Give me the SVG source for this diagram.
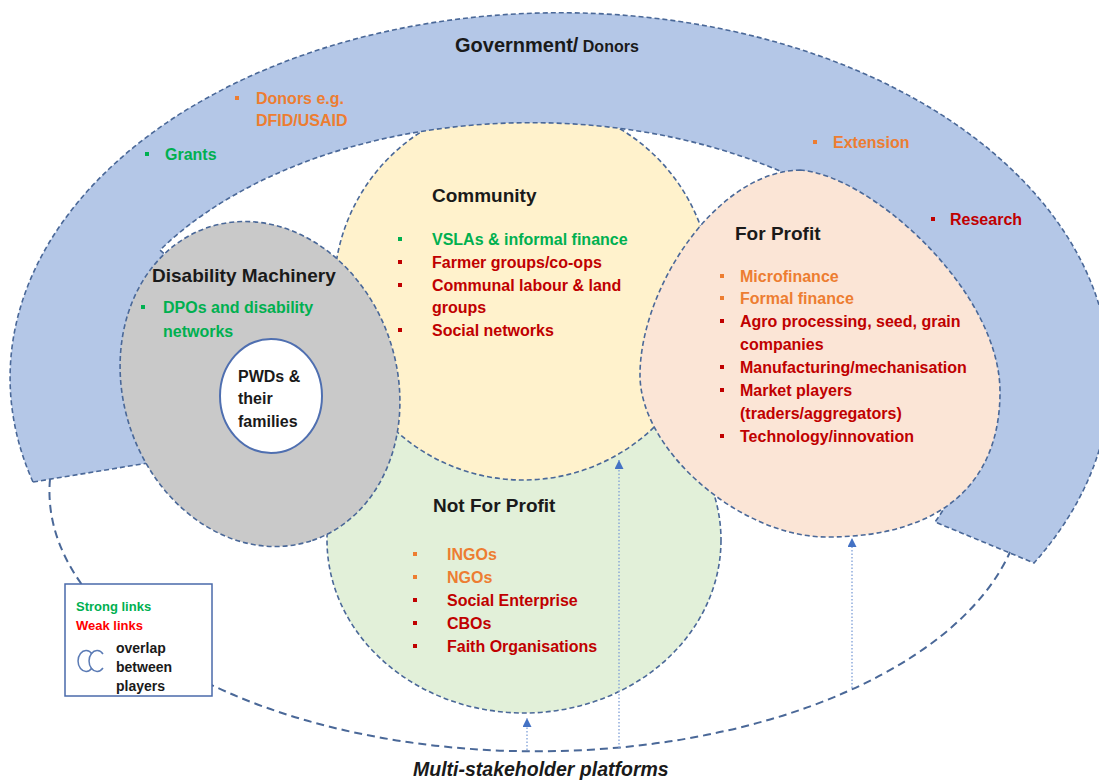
<svg xmlns="http://www.w3.org/2000/svg" width="1099" height="784" viewBox="0 0 1099 784">
<defs>
<style>
.o{stroke:#4a6898;stroke-width:1.6;stroke-dasharray:5 3}
text{font-family:"Liberation Sans",Arial,sans-serif;font-weight:bold}
.t{font-size:19px;fill:#1a1a1a}
.i{font-size:16px}
.g{fill:#00B050}.r{fill:#C00000}.y{fill:#ED7D31}.k{fill:#1a1a1a}
.dot{stroke:#7f9fd8;stroke-width:1.3;stroke-dasharray:1.5 2;fill:none}
</style>
<marker id="ah" markerWidth="9" markerHeight="9" refX="9" refY="4.5" orient="auto" markerUnits="userSpaceOnUse">
<path d="M0,0 L9,4.5 L0,9 Z" fill="#4472C4"/>
</marker>
</defs>
<rect width="1099" height="784" fill="#ffffff"/>

<g id="not-for-profit">
<ellipse cx="524" cy="540" rx="197" ry="173" fill="#E2F0D9" class="o"/>
<text class="t" x="433" y="512">Not For Profit</text>
<rect class="y" x="413" y="552" width="4" height="4"/>
<rect class="y" x="413" y="575" width="4" height="4"/>
<rect class="r" x="413" y="598" width="4" height="4"/>
<rect class="r" x="413" y="621" width="4" height="4"/>
<rect class="r" x="413" y="644" width="4" height="4"/>
<text class="i y" x="447" y="560">INGOs</text>
<text class="i y" x="447" y="583">NGOs</text>
<text class="i r" x="447" y="606">Social Enterprise</text>
<text class="i r" x="447" y="629">CBOs</text>
<text class="i r" x="447" y="652">Faith Organisations</text>
</g>

<g id="community">
<circle cx="523" cy="291" r="189" fill="#FFF2CC" class="o"/>
<text class="t" x="432" y="202">Community</text>
<rect class="g" x="398" y="237" width="4" height="4"/>
<rect class="r" x="398" y="260" width="4" height="4"/>
<rect class="r" x="398" y="283" width="4" height="4"/>
<rect class="r" x="398" y="328" width="4" height="4"/>
<text class="i g" x="432" y="245">VSLAs &amp; informal finance</text>
<text class="i r" x="432" y="268">Farmer groups/co-ops</text>
<text class="i r" x="432" y="291">Communal labour &amp; land</text>
<text class="i r" x="432" y="313">groups</text>
<text class="i r" x="432" y="336">Social networks</text>
</g>

<g id="government-donors">
<path d="M33,482 A550,365 0 1 1 1034,563 L935,522 A444,282 0 0 0 160,250 L215,300 L160,461 Z" fill="#B4C7E7" class="o"/>
<text x="455" y="52" class="k"><tspan font-size="20">Government/</tspan><tspan font-size="16"> Donors</tspan></text>
<rect class="y" x="235" y="96" width="4" height="4"/>
<text class="i y" x="256" y="104">Donors e.g.</text>
<text class="i y" x="256" y="126">DFID/USAID</text>
<rect class="g" x="145" y="152" width="4" height="4"/>
<text class="i g" x="165" y="160">Grants</text>
<rect class="y" x="813" y="140" width="4" height="4"/>
<text class="i y" x="833" y="148">Extension</text>
<rect class="r" x="931" y="217" width="4" height="4"/>
<text class="i r" x="950" y="225">Research</text>
</g>

<g id="disability-machinery">
<ellipse cx="0" cy="0" rx="165" ry="137" transform="translate(260,384) rotate(72)" fill="#C9C9C9" class="o"/>
<text class="t" x="152" y="282">Disability Machinery</text>
<rect class="g" x="141" y="305" width="4" height="4"/>
<text class="i g" x="163" y="313">DPOs and disability</text>
<text class="i g" x="163" y="337">networks</text>
</g>

<g id="pwds">
<ellipse cx="271" cy="396" rx="51" ry="57" fill="#ffffff" stroke="#4f6fb0" stroke-width="2"/>
<text class="i k" x="238" y="382">PWDs &amp;</text>
<text class="i k" x="238" y="404">their</text>
<text class="i k" x="238" y="427">families</text>
</g>

<g id="for-profit">
<path d="M800,170 C870,175 1000,290 1000,392 C1000,480 945,537 827,537 C740,537 640,450 640,375 C640,290 715,172 800,170 Z" fill="#FBE5D6" class="o"/>
<text class="t" x="735" y="240">For Profit</text>
<rect class="y" x="720" y="274" width="4" height="4"/>
<rect class="y" x="720" y="296" width="4" height="4"/>
<rect class="r" x="720" y="319" width="4" height="4"/>
<rect class="r" x="720" y="365" width="4" height="4"/>
<rect class="r" x="720" y="388" width="4" height="4"/>
<rect class="r" x="720" y="434" width="4" height="4"/>
<text class="i y" x="740" y="282">Microfinance</text>
<text class="i y" x="740" y="304">Formal finance</text>
<text class="i r" x="740" y="327">Agro processing, seed, grain</text>
<text class="i r" x="740" y="350">companies</text>
<text class="i r" x="740" y="373">Manufacturing/mechanisation</text>
<text class="i r" x="740" y="396">Market players</text>
<text class="i r" x="740" y="419">(traders/aggregators)</text>
<text class="i r" x="740" y="442">Technology/innovation</text>
</g>

<g id="connectors">
<path d="M50,479 A487,260 0 0 0 1010,552" fill="none" stroke="#4a6898" stroke-width="2" stroke-dasharray="8 5"/>
<line class="dot" x1="527" y1="750" x2="527" y2="718" marker-end="url(#ah)"/>
<line class="dot" x1="619" y1="748" x2="619" y2="460" marker-end="url(#ah)"/>
<line class="dot" x1="852" y1="688" x2="852" y2="538" marker-end="url(#ah)"/>
</g>

<g id="platforms-label">
<text x="413" y="776" font-size="19.5" font-style="italic" class="k">Multi-stakeholder  platforms</text>
</g>

<g id="legend">
<rect x="65" y="584" width="147" height="112" fill="#ffffff" stroke="#4a6aaa" stroke-width="1.5"/>
<text x="76" y="611" font-size="13" class="g">Strong links</text>
<text x="76" y="630" font-size="13" fill="#FF0000">Weak links</text>
<path d="M92,654 A8,10.5 0 1 0 92,668" fill="none" stroke="#5b7bb5" stroke-width="1.5"/>
<path d="M103,654 A8,10.5 0 1 0 103,668" fill="none" stroke="#5b7bb5" stroke-width="1.5"/>
<text x="116" y="653" font-size="14" class="k">overlap</text>
<text x="116" y="672" font-size="14" class="k">between</text>
<text x="116" y="691" font-size="14" class="k">players</text>
</g>
</svg>
